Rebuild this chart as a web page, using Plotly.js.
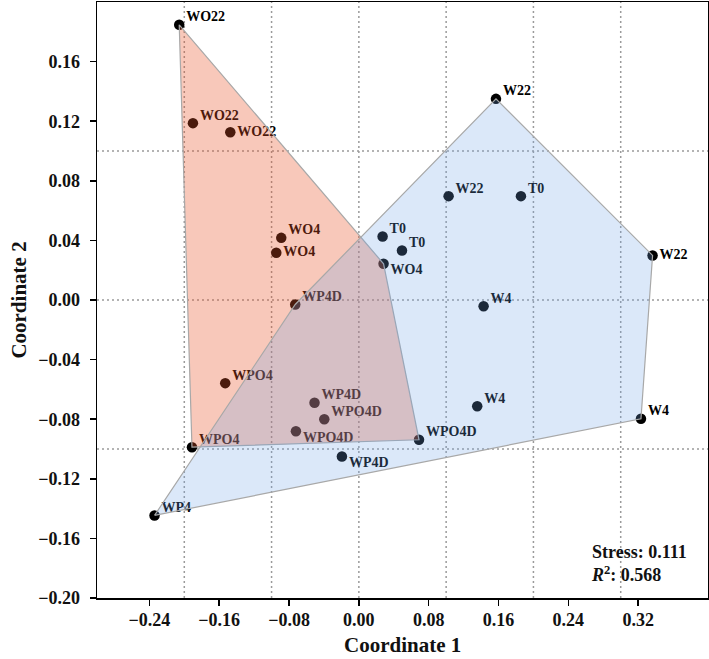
<!DOCTYPE html>
<html>
<head>
<meta charset="utf-8">
<script src="https://cdn.plot.ly/plotly-3.0.1.min.js"></script>
<style>html,body{margin:0;padding:0;background:#fff}#chart{width:709px;height:659px}</style>
</head>
<body>
<div id="chart"></div>
<script>
// ---- data ----
const sampleLabels = ['WO22','WO22','WO22','WO4','WO4','T0','T0','WO4','WP4D','W4','WP4D','WPO4D','WPO4D','WPO4D','W4','WPO4','WPO4','WP4D','WP4','W22','W22','T0','W22','W4'];
const coord1 = [-0.2058,-0.1901,-0.1473,-0.0889,-0.0946,0.0272,0.0494,0.0283,-0.0729,0.1429,-0.0508,-0.0396,-0.0721,0.0689,0.1356,-0.1531,-0.1912,-0.0194,-0.2341,0.1571,0.1028,0.1857,0.3365,0.3232];
const coord2 = [0.1847,0.1187,0.1126,0.0417,0.0317,0.0426,0.0332,0.0243,-0.0030,-0.0042,-0.0690,-0.0800,-0.0881,-0.0938,-0.0713,-0.0558,-0.0988,-0.1050,-0.1446,0.1350,0.0697,0.0697,0.0299,-0.0797];
const oTreatments = ['WO22','WO4','WPO4','WPO4D'];       // red hull group
const otherTreatments = ['T0','W22','W4','WP4','WP4D'];  // blue hull group
const xTickValues = [-0.24,-0.16,-0.08,0.00,0.08,0.16,0.24,0.32];
const yTickValues = [-0.20,-0.16,-0.12,-0.08,-0.04,0.00,0.04,0.08,0.12,0.16];
const xTitle = 'Coordinate 1';
const yTitle = 'Coordinate 2';
const stressValue = 0.111;
const rSquaredValue = 0.568;

// ---- styling ----
const labelPositions = ['top right','top right','middle right','top right','middle right','top right','top right','bottom right','top right','top right','top right','top right','bottom right','top right','top right','top right','top right','bottom right','top right','top right','top right','top right','middle right','top right'];
const serif = 'Liberation Serif, Times New Roman, serif';

function hull(pts){
  pts = pts.slice().sort((a,b)=>a[0]-b[0]||a[1]-b[1]);
  const cross=(o,a,b)=>(a[0]-o[0])*(b[1]-o[1])-(a[1]-o[1])*(b[0]-o[0]);
  const lower=[],upper=[];
  for(const p of pts){while(lower.length>=2&&cross(lower[lower.length-2],lower[lower.length-1],p)<=0)lower.pop();lower.push(p);}
  for(let i=pts.length-1;i>=0;i--){const p=pts[i];while(upper.length>=2&&cross(upper[upper.length-2],upper[upper.length-1],p)<=0)upper.pop();upper.push(p);}
  upper.pop();lower.pop();
  const h=lower.concat(upper);h.push(h[0]);return h;
}
function groupPts(group){
  const out=[];
  sampleLabels.forEach((l,i)=>{if(group.includes(l))out.push([coord1[i],coord2[i]]);});
  return out;
}
const hullO = hull(groupPts(oTreatments));
const hullW = hull(groupPts(otherTreatments));

const traces = [
  {type:'scatter',mode:'markers',x:coord1,y:coord2,
   marker:{color:'#000',size:10.5},hoverinfo:'skip',showlegend:false},
  {type:'scatter',mode:'text',x:coord1,y:coord2,text:sampleLabels.map(s=>'\u2002'+s),textposition:labelPositions,
   textfont:{family:serif,size:14,color:'#000',weight:'bold'},hoverinfo:'skip',showlegend:false},
  {type:'scatter',mode:'lines',x:hullO.map(p=>p[0]),y:hullO.map(p=>p[1]),fill:'toself',
   fillcolor:'rgba(232,85,40,0.32)',line:{color:'#a8a8a8',width:1.2},hoverinfo:'skip',showlegend:false},
  {type:'scatter',mode:'lines',x:hullW.map(p=>p[0]),y:hullW.map(p=>p[1]),fill:'toself',
   fillcolor:'rgba(110,165,230,0.25)',line:{color:'#a8a8a8',width:1.2},hoverinfo:'skip',showlegend:false}
];

const xRange=[-0.3,0.4], yRange=[-0.2,0.2];
const shapes=[];
for(let k=Math.ceil(xRange[0]*10+1e-9);k<=Math.floor(xRange[1]*10-1e-9);k++){
  shapes.push({type:'line',layer:'below',xref:'x',yref:'paper',x0:k/10,x1:k/10,y0:0,y1:1,line:{color:'#9a9a9a',width:1.5,dash:'2px,3px'}});
}
for(let k=Math.ceil(yRange[0]*10+1e-9);k<=Math.floor(yRange[1]*10-1e-9);k++){
  shapes.push({type:'line',layer:'below',xref:'paper',yref:'y',x0:0,x1:1,y0:k/10,y1:k/10,line:{color:'#9a9a9a',width:1.5,dash:'2px,3px'}});
}

const axisCommon = {showgrid:false,zeroline:false,showline:true,linecolor:'#000',linewidth:1.5,mirror:true,
  ticks:'outside',ticklen:6,tickwidth:1.5,tickcolor:'#000',tickformat:'.2f',automargin:false,
  tickfont:{family:serif,size:18,color:'#111',weight:'bold'}};

const layout = {
  width:709,height:659,margin:{l:97,r:1,t:2,b:61},paper_bgcolor:'#fff',plot_bgcolor:'#fff',
  xaxis:Object.assign({},axisCommon,{range:xRange,tickmode:'array',tickvals:xTickValues,ticklabelstandoff:-1}),
  yaxis:Object.assign({},axisCommon,{range:yRange,tickmode:'array',tickvals:yTickValues,ticklabelstandoff:6,
    title:{text:yTitle,standoff:6,font:{family:serif,size:21,color:'#111',weight:'bold'}}}),
  shapes:shapes,
  annotations:[
    {xref:'paper',yref:'paper',x:0.805,y:0.058,xanchor:'left',yanchor:'middle',align:'left',showarrow:false,
     text:'Stress: '+stressValue.toFixed(3)+'<br><i>R</i><sup>2</sup>: '+rSquaredValue.toFixed(3),
     font:{family:serif,size:18,color:'#111',weight:'bold'}},
    {xref:'paper',yref:'paper',x:0.5,y:-0.079,xanchor:'center',yanchor:'middle',showarrow:false,
     text:xTitle,font:{family:serif,size:21,color:'#111',weight:'bold'}}
  ]
};

Plotly.newPlot('chart',traces,layout,{displayModeBar:false,staticPlot:true});
</script>
</body>
</html>
